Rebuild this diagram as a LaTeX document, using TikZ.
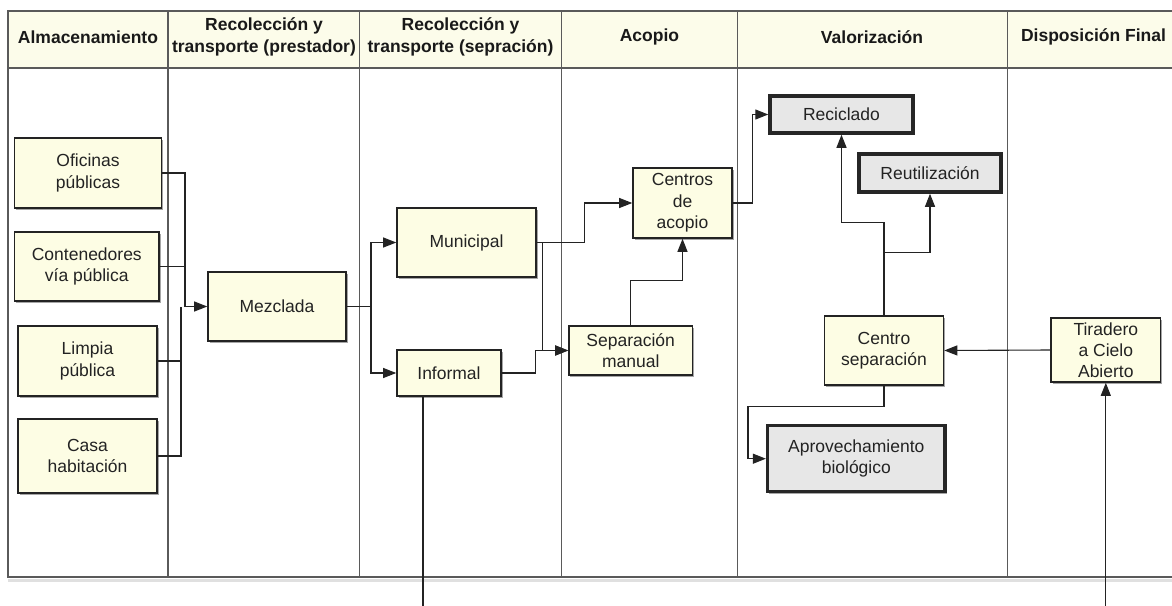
\documentclass[tikz,border=0pt]{standalone}
\usepackage{fontspec}
\setmainfont{Liberation Sans}
\usetikzlibrary{arrows.meta,shadows,calc}
\definecolor{hdr}{RGB}{252,252,234}
\definecolor{boxc}{RGB}{253,253,228}
\definecolor{grayb}{RGB}{231,231,231}
\definecolor{lane}{RGB}{90,90,90}
\definecolor{ink}{RGB}{35,35,35}
\begin{document}
\begin{tikzpicture}[x=1pt,y=-1pt,
  txt/.style={font=\fontsize{17.5}{21.5}\selectfont, align=center, text=ink},
  hd/.style={font=\bfseries\fontsize{17.5}{21.5}\selectfont, align=center, text=black!90},
  shad/.style={drop shadow={shadow xshift=1.5pt,shadow yshift=-2pt,fill=black,opacity=0.35}},
  pbox/.style={txt, draw=ink, line width=1.6pt, fill=boxc, inner sep=0pt, shad},
  gbox/.style={txt, draw=black!85, line width=3.5pt, fill=grayb, inner sep=0pt, shad},
  conn/.style={draw=ink, line width=1.1pt},
  arr/.style={conn, -{Triangle[length=13pt,width=10pt]}},
  lanel/.style={draw=lane, line width=1.4pt}
]
\useasboundingbox (0,0) rectangle (1172,605);
\clip (0,0) rectangle (1172,605);
% swimlane frame
\fill[white] (0,0) rectangle (1172,605);
\fill[hdr] (8,11) rectangle (1180,68);
\draw[black!12, line width=3pt] (8,580) -- (1180,580);
\draw[lanel] (8,11) rectangle (1180,577);
\draw[lanel] (8,68) -- (1180,68);
\foreach \xx in {168,359.7,561.4,737.7,1007.6}
  \draw[lanel] (\xx,11) -- (\xx,577);
% headers
\node[hd] (h1) at (88,37) {Almacenamiento};
\node[hd] (h2) at (264,37) {Recolección y\\transporte (prestador)};
\node[hd] (h3) at (460.5,37) {Recolección y\\transporte (sepración)};
\node[hd] (h4) at (649.5,37) {Acopio};
\node[hd] (h5) at (872,37) {Valorización};
\node[hd] (h6) at (1093.5,37) {Disposición Final};
% boxes
\node[pbox, minimum width=147pt, minimum height=70pt] (ofi) at (88,173) {Oficinas\\públicas};
\node[pbox, minimum width=144.5pt, minimum height=69pt] (cont) at (86.8,266.5) {Contenedores\\vía pública};
\node[pbox, minimum width=139pt, minimum height=70pt] (limp) at (87.5,361) {Limpia\\pública};
\node[pbox, minimum width=139pt, minimum height=74pt] (casa) at (87.5,456) {Casa\\habitación};
\node[pbox, minimum width=138pt, minimum height=69pt] (mez) at (277,306.5) {Mezclada};
\node[pbox, minimum width=139pt, minimum height=69pt] (mun) at (466.5,242.5) {Municipal};
\node[pbox, minimum width=104pt, minimum height=46pt] (inf) at (449,373) {Informal};
\node[pbox, minimum width=123.5pt, minimum height=49pt] (sep) at (630.7,350.5) {Separación\\manual};
\node[pbox, minimum width=99pt, minimum height=70pt] (cen) at (682.5,203) {Centros\\de\\acopio};
\node[gbox, minimum width=143pt, minimum height=37pt] (rec) at (841.5,114.5) {Reciclado};
\node[gbox, minimum width=142.4pt, minimum height=38pt] (reu) at (930,173) {Reutilización};
\node[pbox, minimum width=119pt, minimum height=69pt] (csep) at (884,350.5) {Centro\\separación};
\node[gbox, minimum width=177.4pt, minimum height=66pt] (apr) at (856.3,458.7) {Aprovechamiento\\biológico};
\node[pbox, minimum width=109.6pt, minimum height=64pt, font=\fontsize{17.5}{21}\selectfont, text depth=0pt] (tir) at (1105.8,350) {Tiradero\\a Cielo\\Abierto};
% helper coordinates
\coordinate (busA) at (185,306.5);
\coordinate (busB) at (181,306.5);
\coordinate (split) at (371,306.5);
\coordinate (infend) at (423,610);
\coordinate (tirend) at (1105.8,610);
% connectors
\draw[arr] (ofi.east) -| (busA) -- (mez.west);
\draw[conn] (cont.east) -- (cont.east -| busA);
\draw[conn] (casa.east) -| (busB);
\draw[conn] (limp.east) -- (limp.east -| busB);
\draw[conn] (mez.east) -- (split);
\draw[arr] (split) |- (mun.west);
\draw[arr] (split) |- (inf.west);
\draw[arr] (mun.east) -- ++(48,0) |- (cen.west);
\draw[arr] (mun.east) -- ++(5.5,0) |- (sep.west);
\draw[arr] (inf.east) -- ++(34,0) |- (sep.west);
\draw[arr] (sep.north) -- ++(0,-44.5) -| (cen.south);
\draw[arr] (cen.east) -- ++(20,0) |- (rec.west);
\draw[arr] (csep.north) -- ++(0,-93) -| (rec.south);
\draw[arr] (csep.north) -- ++(0,-63) -| (reu.south);
\draw[arr] (csep.south) -- ++(0,20.5) -- ++(-136,0) |- (apr.west);
\draw[arr] (tir.west) -- (csep.east);
\draw[arr] (tirend) -- (tir.south);
\draw[conn] (infend |- inf.south) -- (infend);
\end{tikzpicture}
\end{document}
